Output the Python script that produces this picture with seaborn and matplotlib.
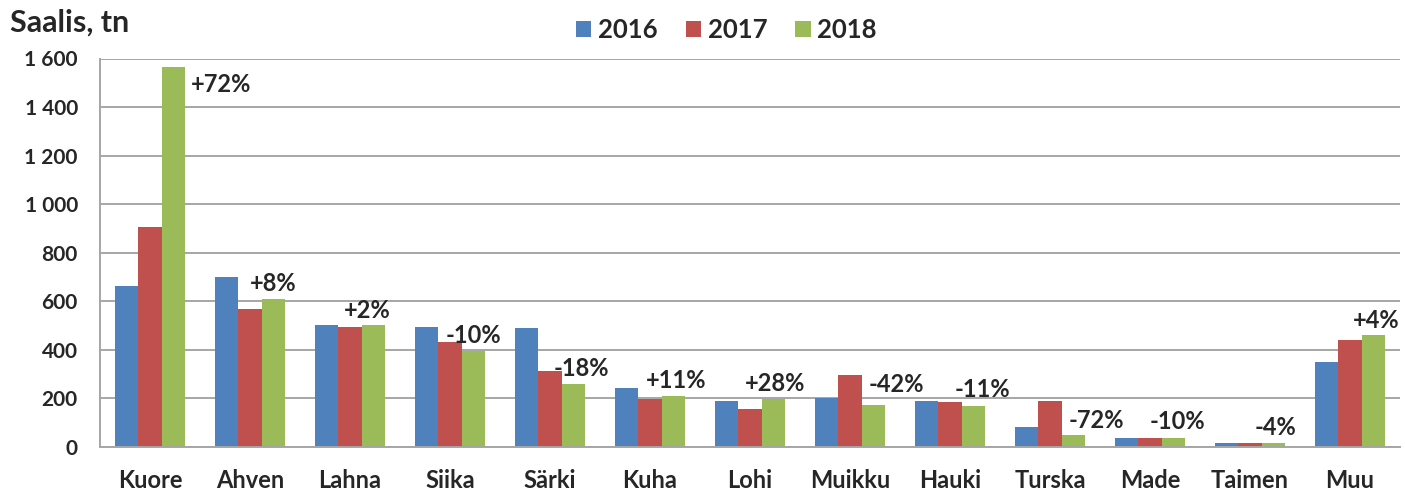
import numpy as np
import pandas as pd
import matplotlib
matplotlib.use("Agg")
import matplotlib.pyplot as plt
from matplotlib.ticker import FuncFormatter, FixedLocator
import seaborn as sns

# data (tonnes)
lajit = ['Kuore', 'Ahven', 'Lahna', 'Siika', 'Särki', 'Kuha', 'Lohi',
         'Muikku', 'Hauki', 'Turska', 'Made', 'Taimen', 'Muu']
v2016 = [664, 699, 504, 496, 492, 242, 189, 201, 190, 82, 36, 17, 352]
v2017 = [907, 569, 494, 433, 315, 199, 155, 296, 184, 190, 36, 17, 440]
v2018 = [1567, 611, 504, 396, 260, 212, 199, 172, 167, 48, 36, 17, 463]
muutos = ['+72%', '+8%', '+2%', '-10%', '-18%', '+11%', '+28%',
          '-42%', '-11%', '-72%', '-10%', '-4%', '+4%']

# label placement: x offset (categories), y offset (points)
lab_dx = [0.71, 0.23, 0.17, 0.23, 0.31, 0.26, 0.25, 0.46, 0.32, 0.46, 0.27, 0.25, 0.26]
lab_dy = [-13, 11, 10, 11, 11, 11, 11, 15, 12, 11, 12, 11, 10]

df = pd.DataFrame({
    'laji': lajit * 3,
    'vuosi': ['2016'] * 13 + ['2017'] * 13 + ['2018'] * 13,
    'saalis': v2016 + v2017 + v2018,
})

sns.set_style('white')
plt.rcParams['font.family'] = ['Lato', 'DejaVu Sans']
plt.rcParams['font.weight'] = 'bold'

fig = plt.figure(figsize=(14.05, 4.97), dpi=100)
ax = fig.add_axes([100 / 1405, 1 - 447 / 497, 1300 / 1405, (447 - 58.5) / 497])

sns.barplot(data=df, x='laji', y='saalis', hue='vuosi', ax=ax, width=0.7,
            palette=['#4F81BD', '#C0504D', '#9BBB59'], saturation=1,
            edgecolor='none', linewidth=0)

ax.set_ylim(0, 1600)
ax.set_xlim(-0.5, 12.5)
ax.set_yticks(np.arange(0, 1601, 200))
ax.yaxis.set_major_formatter(FuncFormatter(lambda v, p: f'{int(v):,}'.replace(',', ' ')))
ax.grid(axis='y', color='#A6A6A6', linewidth=1.4)
ax.set_axisbelow(True)
for s in ['top', 'right']:
    ax.spines[s].set_visible(False)
for s in ['left', 'bottom']:
    ax.spines[s].set_color('#A6A6A6')
    ax.spines[s].set_linewidth(1.4)

ax.tick_params(axis='y', length=6, width=1.4, color='#A6A6A6', pad=10, labelsize=15)
ax.tick_params(axis='x', which='major', length=0, pad=16, labelsize=17)
ax.xaxis.set_minor_locator(FixedLocator(np.arange(-0.5, 13, 1)))
ax.tick_params(axis='x', which='minor', length=6, width=1.4, color='#A6A6A6')
for t in ax.get_xticklabels() + ax.get_yticklabels():
    t.set_fontweight('bold')
ax.set_xlabel('')
ax.set_ylabel('')

for i, txt in enumerate(muutos):
    ax.annotate(txt, (i + lab_dx[i], v2018[i]), xytext=(0, lab_dy[i]),
                textcoords='offset points', ha='center', va='center',
                fontsize=17, fontweight='bold')

handles, labels = ax.get_legend_handles_labels()
ax.legend(handles, labels, loc='center', bbox_to_anchor=(0.517, 0.94),
          bbox_transform=fig.transFigure, ncol=3, frameon=False,
          handlelength=0.6, handleheight=0.6, handletextpad=0.25,
          columnspacing=1.1, prop={'size': 18.5, 'weight': 'bold'})

fig.text(0.007, 0.955, 'Saalis, tn', fontsize=22, fontweight='bold', va='center')

fig.savefig('out.png', dpi=100)
